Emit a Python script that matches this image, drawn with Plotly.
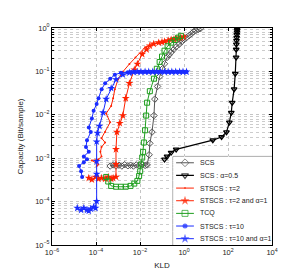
import plotly.graph_objects as go

# ---------------- data ----------------
scs_x = [4.4e-4, 6.0e-4, 8.1e-4, 1.1e-3, 1.5e-3, 2.0e-3, 2.8e-3, 3.7e-3, 5.0e-3, 6.8e-3,
         9.1e-3, 1.26e-2, 1.7e-2, 2.1e-2, 2.6e-2, 2.8e-2, 3.5e-2, 4.3e-2, 4.7e-2, 6.3e-2,
         7.8e-2, 0.105, 0.13, 0.17, 0.21, 0.26, 0.34, 0.44, 0.6, 0.78, 0.98, 1.3, 1.7, 2.2,
         2.7, 3.5, 4.5, 5.5]
scs_y = [6.6e-4, 7.0e-4, 6.6e-4, 6.9e-4, 6.6e-4, 7.1e-4, 6.7e-4, 6.9e-4, 6.6e-4, 7.0e-4,
         6.8e-4, 7.1e-4, 6.8e-4, 7.0e-4, 1.2e-3, 2.2e-3, 4.0e-3, 9.6e-3, 2.3e-2, 4.5e-2,
         7.6e-2, 0.115, 0.15, 0.21, 0.24, 0.275, 0.32, 0.37, 0.42, 0.48, 0.54, 0.6, 0.67, 0.74,
         0.82, 0.88, 0.93, 0.96]

scs_a_x = [0.13, 0.17, 0.26, 0.44, 20.4, 51, 85, 115, 141, 155, 190, 214, 234, 236, 240,
           244, 248, 252, 257, 260, 263]
scs_a_y = [9.4e-4, 1.1e-3, 1.35e-3, 1.6e-3, 2.6e-3, 3.1e-3, 4.0e-3, 6.7e-3, 1.12e-2, 1.9e-2,
           3.9e-2, 8.9e-2, 0.21, 0.32, 0.42, 0.51, 0.6, 0.7, 0.8, 0.9, 1.0]

st2_x = [1.07e-4, 1.29e-4, 6.5e-5, 1.29e-4, 1.78e-4, 1.58e-4, 1.78e-4, 2.6e-4, 1.78e-4,
         2.6e-4, 4.4e-4, 2.9e-4, 4.9e-4, 6.0e-4, 7.2e-4, 1.0e-3, 1.66e-3, 3.3e-3, 6.2e-3,
         1.7e-2, 6.9e-2, 0.26, 0.98]
st2_y = [6.5e-4, 7.2e-4, 8.9e-4, 9.4e-4, 1.1e-3, 1.4e-3, 1.8e-3, 2.3e-3, 2.9e-3, 4.0e-3,
         6.7e-3, 1.07e-2, 1.6e-2, 2.4e-2, 3.9e-2, 6.5e-2, 9.8e-2, 0.148, 0.21, 0.36, 0.46,
         0.54, 0.66]

st2a_x = [4.7e-5, 6.5e-5, 9.5e-5, 1.29e-4, 1.78e-4, 2.6e-4, 3.6e-4, 4.9e-4, 6.0e-4, 8.1e-4,
          8.1e-4, 8.1e-4, 8.9e-4, 1.2e-3, 1.66e-3, 2.24e-3, 3.3e-3, 5.5e-3, 7.6e-3, 1.26e-2,
          2.0e-2, 2.8e-2, 4.2e-2, 7.1e-2, 0.1, 0.13, 0.19, 0.26, 0.35, 0.44, 0.58, 0.72, 0.98]
st2a_y = [3.5e-4, 3.2e-4, 3.7e-4, 3.35e-4, 3.5e-4, 3.35e-4, 3.7e-4, 3.35e-4, 3.5e-4, 3.7e-4,
          7.2e-4, 1.6e-3, 4.0e-3, 6.4e-3, 9.6e-3, 2.4e-2, 5.3e-2, 0.109, 0.148, 0.25,
          0.32, 0.39, 0.43, 0.46, 0.475, 0.49, 0.515, 0.54, 0.555, 0.57, 0.585, 0.6, 0.63]

tcq_x = [2.9e-4, 3.6e-4, 4.9e-4, 8.1e-4, 1.35e-3, 2.24e-3, 3.7e-3, 5.5e-3, 7.6e-3, 9.1e-3,
         1.02e-2, 1.12e-2, 1.26e-2, 1.38e-2, 1.5e-2, 1.7e-2, 1.9e-2, 2.1e-2, 2.8e-2, 4.3e-2,
         5.8e-2, 7.8e-2, 0.1, 0.13, 0.18, 0.26, 0.38, 0.54, 0.72]
tcq_y = [3.7e-4, 2.9e-4, 2.3e-4, 2.2e-4, 2.2e-4, 2.2e-4, 2.3e-4, 2.6e-4, 3.0e-4, 3.9e-4,
         5.0e-4, 7.2e-4, 1.04e-3, 1.4e-3, 2.3e-3, 4.4e-3, 9.6e-3, 1.9e-2, 3.5e-2, 6.8e-2,
         0.115, 0.165, 0.22, 0.30, 0.38, 0.46, 0.53, 0.6, 0.66]

st10_x = [2.34e-5, 2.1e-5, 1.7e-5, 2.8e-5, 3.9e-5, 2.8e-5, 4.7e-5, 3.5e-5, 3.9e-5, 5.8e-5,
          4.7e-5, 6.5e-5, 7.8e-5, 1.07e-4, 1.3e-4, 1.8e-4, 2.6e-4, 4.4e-4, 7.2e-4, 1.35e-3,
          2.8e-3, 4.0e-3, 6.0e-3, 9.0e-3, 1.4e-2, 2.0e-2, 3.0e-2, 4.5e-2, 7.0e-2, 0.1, 0.15,
          0.22, 0.33, 0.5, 0.75, 1.0, 1.3]
st10_y = [3.7e-4, 5.0e-4, 6.6e-4, 8.1e-4, 9.4e-4, 1.1e-3, 1.4e-3, 1.8e-3, 2.6e-3, 4.0e-3,
          5.1e-3, 8.2e-3, 1.24e-2, 1.78e-2, 2.4e-2, 3.9e-2, 5.3e-2, 6.8e-2, 8.4e-2, 9.3e-2,
          9.6e-2, 9.7e-2, 9.8e-2, 9.8e-2, 9.8e-2, 9.8e-2, 9.8e-2, 9.8e-2, 9.8e-2, 9.8e-2,
          9.8e-2, 9.8e-2, 9.8e-2, 9.8e-2, 9.8e-2, 9.8e-2, 9.8e-2]

st10a_x = [1.41e-5, 2.1e-5, 2.8e-5, 3.9e-5, 4.7e-5, 5.8e-5, 7.8e-5, 9.5e-5, 1.07e-4, 1.07e-4,
           1.07e-4, 1.07e-4, 1.17e-4, 1.44e-4, 2.1e-4, 2.9e-4, 4.9e-4, 8.1e-4, 1.66e-3,
           3.3e-3, 5.0e-3, 7.5e-3, 1.1e-2, 1.7e-2, 2.5e-2, 3.8e-2, 5.6e-2, 8.5e-2, 0.13,
           0.19, 0.28, 0.42, 0.63, 0.9, 1.3]
st10a_y = [7.1e-5, 6.4e-5, 7.1e-5, 6.4e-5, 6.1e-5, 6.8e-5, 7.5e-5, 7.1e-5, 1.02e-4, 4.3e-4,
           8.5e-4, 2.4e-3, 3.8e-3, 5.5e-3, 1.12e-2, 2.3e-2, 4.1e-2, 6.5e-2, 8.4e-2, 9.3e-2,
           9.6e-2, 9.7e-2, 9.8e-2, 9.8e-2, 9.8e-2, 9.8e-2, 9.8e-2, 9.8e-2, 9.8e-2, 9.8e-2,
           9.8e-2, 9.8e-2, 9.8e-2, 9.8e-2, 9.8e-2]

names = ["SCS", "SCS : \u03b1=0.5", "STSCS : \u03c4=2", "STSCS : \u03c4=2 and \u03b1=1",
         "TCQ", "STSCS : \u03c4=10", "STSCS : \u03c4=10 and \u03b1=1"]
x_tickvals = [1e-6, 1e-4, 1e-2, 1e0, 1e2, 1e4]
x_ticktext = ["10<sup>\u22126</sup>", "10<sup>\u22124</sup>", "10<sup>\u22122</sup>",
              "10<sup>0</sup>", "10<sup>2</sup>", "10<sup>4</sup>"]
y_tickvals = [1e-5, 1e-4, 1e-3, 1e-2, 1e-1, 1e0]
y_ticktext = ["10<sup>\u22125</sup>", "10<sup>\u22124</sup>", "10<sup>\u22123</sup>",
              "10<sup>\u22122</sup>", "10<sup>\u22121</sup>", "10<sup>0</sup>"]

# ---------------- styles ----------------
RED = "#ff2200"
BLUE = "#1a2cff"
GREEN = "#1e9e1e"
GRAY = "#555555"
FONT = "Liberation Sans, Arial, sans-serif"
TXT = "#222222"

styles = [
    (dict(color=GRAY, width=1), dict(symbol="diamond-open", size=5, color=GRAY, line=dict(width=1, color=GRAY))),
    (dict(color="black", width=1.2), dict(symbol="triangle-down-open", size=5, color="black", line=dict(width=1.3, color="black"))),
    (dict(color=RED, width=1), dict(symbol="circle", size=2, color=RED, line=dict(width=0))),
    (dict(color=RED, width=1), dict(symbol="star", size=6, color=RED, line=dict(width=0))),
    (dict(color=GREEN, width=1), dict(symbol="square-open", size=5, color=GREEN, line=dict(width=1, color=GREEN))),
    (dict(color=BLUE, width=1), dict(symbol="circle", size=4, color=BLUE, line=dict(width=0))),
    (dict(color=BLUE, width=1), dict(symbol="star", size=6, color=BLUE, line=dict(width=0))),
]
data = [(scs_x, scs_y), (scs_a_x, scs_a_y), (st2_x, st2_y), (st2a_x, st2a_y),
        (tcq_x, tcq_y), (st10_x, st10_y), (st10a_x, st10a_y)]

fig = go.Figure()
for (xs, ys), (ln, mk), nm in zip(data, styles, names):
    fig.add_trace(go.Scatter(x=xs, y=ys, mode="lines+markers", name=nm, line=ln, marker=mk,
                             showlegend=False, xaxis="x", yaxis="y"))

# ---- legend box drawn in its own small (hidden) subplot so rows can be compact ----
n = len(names)
for i, ((ln, mk), nm) in enumerate(zip(styles, names)):
    mk2 = dict(mk)
    mk2["size"] = [0, mk["size"] + (1 if mk["size"] > 2 else 0), 0]
    fig.add_trace(go.Scatter(x=[0.03, 0.12, 0.21], y=[i, i, i], mode="lines+markers",
                             line=ln, marker=mk2, showlegend=False, hoverinfo="skip",
                             xaxis="x2", yaxis="y2"))
    fig.add_annotation(x=0.25, y=i, xref="x2", yref="y2", text=nm, showarrow=False,
                       xanchor="left", yanchor="middle",
                       font=dict(family=FONT, size=7, color=TXT))

fig.add_shape(type="rect", xref="x2 domain", yref="y2 domain", x0=0, x1=1, y0=0, y1=1,
              fillcolor="white", line=dict(color="#555555", width=1), layer="below")

axis_common = dict(
    type="log", showline=True, linecolor="black", linewidth=1, mirror="ticks",
    ticks="inside", ticklen=3, tickcolor="black",
    gridcolor="#c4c4c4", griddash="dot", gridwidth=1, zeroline=False,
    tickfont=dict(family=FONT, size=7.5, color=TXT),
)

fig.update_layout(
    xaxis=dict(**axis_common, range=[-6, 4], tickmode="array", tickvals=x_tickvals,
               ticktext=x_ticktext, domain=[0, 1], anchor="y",
               title=dict(text="KLD", font=dict(family=FONT, size=8, color=TXT), standoff=6)),
    yaxis=dict(**axis_common, range=[-5, 0], tickmode="array", tickvals=y_tickvals,
               ticktext=y_ticktext, domain=[0, 1], anchor="x",
               minor=dict(showgrid=True, gridcolor="#cccccc", griddash="dot", ticks="inside",
                          ticklen=2, tickcolor="black", dtick="D1"),
               title=dict(text="Capacity (Bit/sample)", font=dict(family=FONT, size=8, color=TXT),
                          standoff=10)),
    xaxis2=dict(domain=[(162 - 37) / 227, 1], range=[0, 1], visible=False, anchor="y2",
                fixedrange=True),
    yaxis2=dict(domain=[0, (243 - 152) / 223], range=[n - 0.5, -0.5], visible=False,
                anchor="x2", fixedrange=True),
    width=291, height=273,
    margin=dict(l=37, r=27, t=20, b=30),
    paper_bgcolor="white", plot_bgcolor="white",
    font=dict(family=FONT, size=8, color=TXT),
    showlegend=False,
)

fig.write_html("out.html")
